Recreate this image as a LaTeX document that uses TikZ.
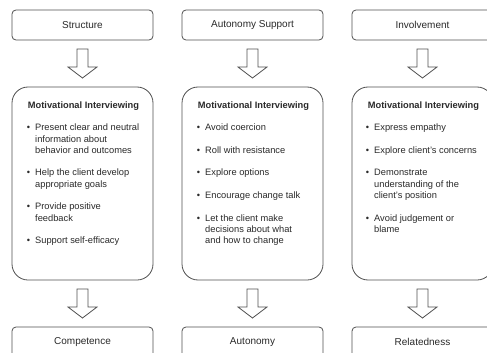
\documentclass[tikz,border=0pt]{standalone}
\usepackage{fontspec}
\setmainfont{Liberation Sans}
\usetikzlibrary{calc}
\definecolor{linec}{HTML}{505050}
\definecolor{textc}{HTML}{2A2A2A}
\begin{document}
\begin{tikzpicture}[x=1pt,y=-1pt,
  topbox/.style={draw=linec, line width=0.8pt, rounded corners=4pt, minimum width=141pt, minimum height=30pt, inner sep=0pt, text=textc, font=\fontsize{10}{12}\selectfont},
  bigbox/.style={draw=linec, line width=0.8pt, rounded corners=16pt, minimum width=141pt, minimum height=193pt, inner sep=0pt},
  headtxt/.style={anchor=base, inner sep=0pt, text=textc, font=\bfseries\fontsize{9.3}{11.3}\selectfont},
  itemtxt/.style={anchor=north west, align=left, inner sep=0pt, text=textc, font=\fontsize{9.3}{11.3}\selectfont},
  blockarrow/.style={draw=linec, line width=0.8pt, fill=white, line join=miter},
  downarrow/.pic={\draw[blockarrow] (-5.5,-14.5) -- (5.5,-14.5) -- (5.5,3.5) -- (14.5,3.5) -- (0,14.5) -- (-14.5,3.5) -- (-5.5,3.5) -- cycle;}
]
\newcommand{\bul}{\makebox[0pt][r]{\textbullet\hspace{5pt}}}
\useasboundingbox (0,0) rectangle (487,353);
\clip (0,0) rectangle (487,353);
\fill[white] (0,0) rectangle (487,353);

% top boxes
\node[topbox] (t1) at (82.5,25) {Structure};
\node[topbox] (t2) at (252.5,25) {Autonomy Support};
\node[topbox] (t3) at (422.5,25) {Involvement};

% big boxes
\node[bigbox] (m1) at (82.5,183.5) {};
\node[bigbox] (m2) at (252.5,183.5) {};
\node[bigbox] (m3) at (422.5,183.5) {};

% bottom boxes
\node[topbox] (c1) at (82.5,342) {Competence};
\node[topbox] (c2) at (252.5,342) {Autonomy};
\node[topbox] (c3) at (422.5,342) {Relatedness};

% arrows
\foreach \i in {1,2,3}{
  \pic at ($(t\i.south)!0.5!(m\i.north)$) {downarrow};
  \pic at ($(m\i.south)!0.5!(c\i.north)$) {downarrow};
}

% headings
\node[headtxt] (h1) at (83.5,108.5) {Motivational Interviewing};
\node[headtxt] (h2) at (253.5,108.5) {Motivational Interviewing};
\node[headtxt] (h3) at (423.5,108.5) {Motivational Interviewing};

% left items
\node[itemtxt] (l1) at (35,122.6) {\strut\bul Present clear and neutral\\information about\\behavior and outcomes};
\node[itemtxt] (l2) at (35,167.8) {\strut\bul Help the client develop\\appropriate goals};
\node[itemtxt] (l3) at (35,201.7) {\strut\bul Provide positive\\feedback};
\node[itemtxt] (l4) at (35,235.6) {\strut\bul Support self-efficacy};

% middle items
\node[itemtxt] (a1) at (205,122.6) {\strut\bul Avoid coercion};
\node[itemtxt] (a2) at (205,145.2) {\strut\bul Roll with resistance};
\node[itemtxt] (a3) at (205,167.8) {\strut\bul Explore options};
\node[itemtxt] (a4) at (205,190.4) {\strut\bul Encourage change talk};
\node[itemtxt] (a5) at (205,213.0) {\strut\bul Let the client make\\decisions about what\\and how to change};

% right items
\node[itemtxt] (r1) at (374,122.6) {\strut\bul Express empathy};
\node[itemtxt] (r2) at (374,145.2) {\strut\bul Explore client's concerns};
\node[itemtxt] (r3) at (374,167.8) {\strut\bul Demonstrate\\understanding of the\\client's position};
\node[itemtxt] (r4) at (374,213.0) {\strut\bul Avoid judgement or\\blame};
\end{tikzpicture}
\end{document}
